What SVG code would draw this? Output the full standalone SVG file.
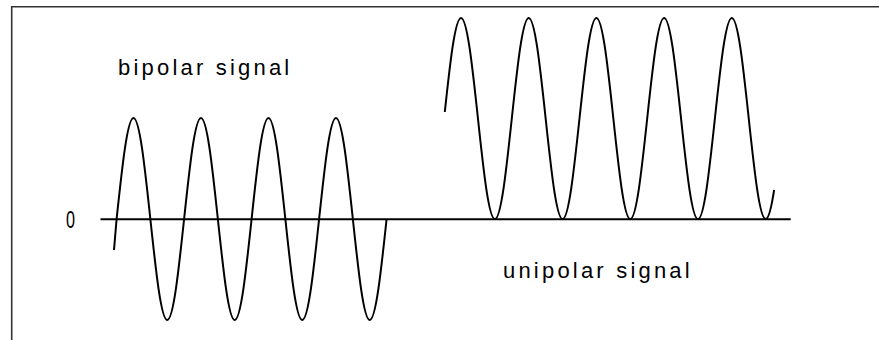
<svg xmlns="http://www.w3.org/2000/svg" width="879" height="340" viewBox="0 0 879 340">
  <style>
    .frame { fill: none; stroke: #333333; stroke-width: 1.6; }
    .axis { fill: none; stroke: #000000; stroke-width: 2; }
    .wave { fill: none; stroke: #000000; stroke-width: 2; stroke-linejoin: round; }
    .label { font-family: "Liberation Sans", Arial, sans-serif; font-size: 22px; letter-spacing: 3.2px; fill: #000000; }
    .zero { font-family: "Liberation Sans", Arial, sans-serif; font-size: 23px; fill: #000000; }
  </style>
  <rect width="879" height="340" fill="#ffffff"/>
  <g id="frame">
    <path class="frame" d="M11.7,340 L11.7,6.7 L879,6.7"/>
  </g>
  <g id="connectors">
    <line id="axis" class="axis" x1="100.5" y1="219.3" x2="790.7" y2="219.3"/>
  </g>
  <g id="bipolar-wave">
    <path class="wave" d="M114,250 L116.6,219 C122.24,165.96 127.40,118 133.475,118 S144.71,165.96 150.35,219 S161.15,320 167.225,320 S178.46,272.04 184.1,219 S194.9,118 200.975,118 S212.21,165.96 217.85,219 S228.65,320 234.725,320 S245.96,272.04 251.6,219 S262.4,118 268.475,118 S279.71,165.96 285.35,219 S296.15,320 302.225,320 S313.46,272.04 319.1,219 S329.9,118 335.975,118 S347.21,165.96 352.85,219 S363.65,320 369.725,320 S380.96,272.04 386.6,219"/>
  </g>
  <g id="unipolar-wave">
    <path class="wave" d="M444.8,112 C449.76,65.73 454.93,18 461.03,18 S472.30,65.73 477.95,118.5 S488.78,219 494.88,219 S506.15,171.27 511.8,118.5 S522.63,18 528.73,18 S540.0,65.73 545.65,118.5 S556.48,219 562.58,219 S573.85,171.27 579.5,118.5 S590.33,18 596.43,18 S607.7,65.73 613.35,118.5 S624.18,219 630.28,219 S641.55,171.27 647.2,118.5 S658.03,18 664.13,18 S675.4,65.73 681.05,118.5 S691.88,219 697.98,219 S709.25,171.27 714.9,118.5 S725.73,18 731.83,18 S743.1,65.73 748.75,118.5 S759.58,219 765.68,219 C768.5,219 771.3,208.4 774.1,190"/>
  </g>
  <g id="label-bipolar">
    <text class="label" x="118" y="75">bipolar signal</text>
  </g>
  <g id="label-unipolar">
    <text class="label" x="503" y="278">unipolar signal</text>
  </g>
  <g id="label-zero">
    <text class="zero" x="66" y="227.5" textLength="9" lengthAdjust="spacingAndGlyphs">0</text>
  </g>
</svg>
